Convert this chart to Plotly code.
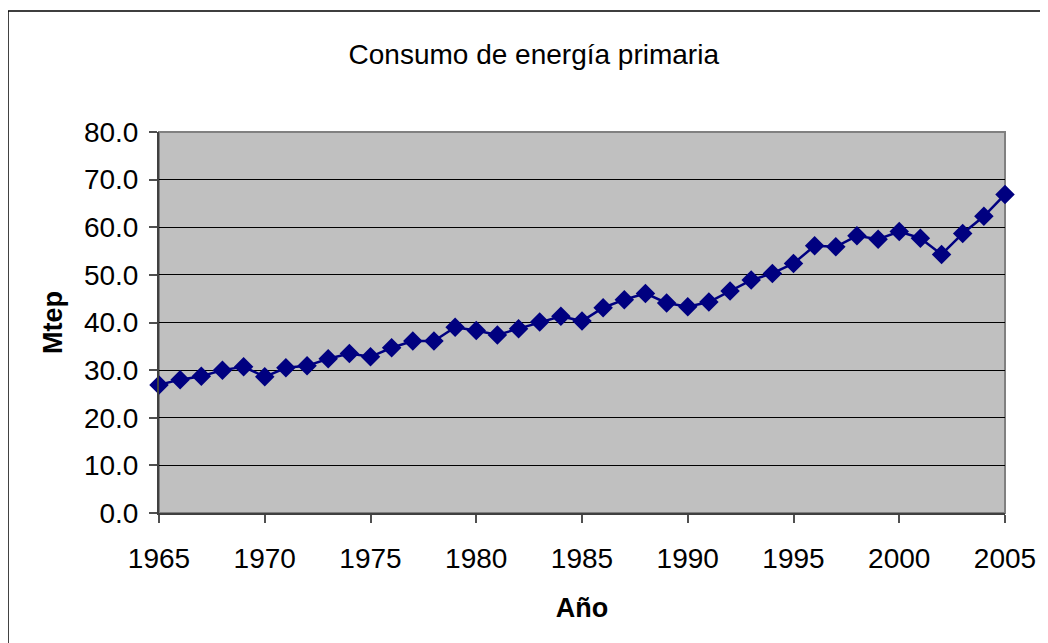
import plotly.graph_objects as go

years = list(range(1965, 2006))
consumo = [26.9, 28.0, 28.7, 30.0, 30.7, 28.6, 30.5, 30.9, 32.4, 33.5,
           32.8, 34.7, 36.1, 36.1, 39.0, 38.3, 37.4, 38.7, 40.1, 41.3,
           40.3, 43.1, 44.8, 46.1, 44.1, 43.3, 44.3, 46.6, 48.9, 50.3,
           52.4, 56.1, 55.9, 58.2, 57.5, 59.1, 57.7, 54.3, 58.7, 62.3, 66.9]
x_ticks = [1965, 1970, 1975, 1980, 1985, 1990, 1995, 2000, 2005]
y_ticks = [0, 10, 20, 30, 40, 50, 60, 70, 80]

font = "Liberation Sans, Arial, sans-serif"

fig = go.Figure()
fig.add_trace(go.Scatter(
    x=years, y=consumo, mode="lines+markers",
    line=dict(color="#000080", width=2.5),
    marker=dict(symbol="diamond", size=15, color="#000080"),
    showlegend=False, cliponaxis=False,
))

fig.update_layout(
    width=1048, height=643,
    margin=dict(l=151, r=51, t=124, b=138),
    paper_bgcolor="white", plot_bgcolor="#C0C0C0",
    font=dict(family=font, size=28, color="black"),
    title=dict(text="Consumo de energía primaria", x=0.443, xref="paper",
               xanchor="center", y=1 - 46/643, yref="container", yanchor="middle",
               font=dict(size=28, family=font)),
    shapes=[
        dict(type="rect", xref="paper", yref="paper", x0=0, x1=1, y0=0, y1=1,
             line=dict(color="#808080", width=2), layer="below"),
        dict(type="rect", xref="paper", yref="paper", x0=-0.1785, x1=1.2,
             y0=-0.5, y1=1.3176, line=dict(color="black", width=1.5)),
    ],
)

fig.update_xaxes(
    range=[1965, 2005], tickmode="array", tickvals=x_ticks,
    ticktext=[str(v) for v in x_ticks],
    ticks="outside", ticklen=8, tickwidth=1.5, tickcolor="#505050",
    showline=True, linecolor="#404040", linewidth=2,
    showgrid=False, zeroline=False, ticklabelstandoff=11,
    title=dict(text="<b>Año</b>", font=dict(size=27, family=font), standoff=26),
)
fig.update_yaxes(
    range=[0, 80], tickmode="array", tickvals=y_ticks,
    ticktext=[f"{v:.1f}" for v in y_ticks],
    ticks="outside", ticklen=8, tickwidth=1.5, tickcolor="#505050",
    showline=True, linecolor="#404040", linewidth=2,
    showgrid=True, gridcolor="black", gridwidth=1, zeroline=False,
    ticklabelstandoff=5,
    title=dict(text="<b>Mtep</b>", font=dict(size=27, family=font), standoff=13),
)

fig.write_html("out.html")
